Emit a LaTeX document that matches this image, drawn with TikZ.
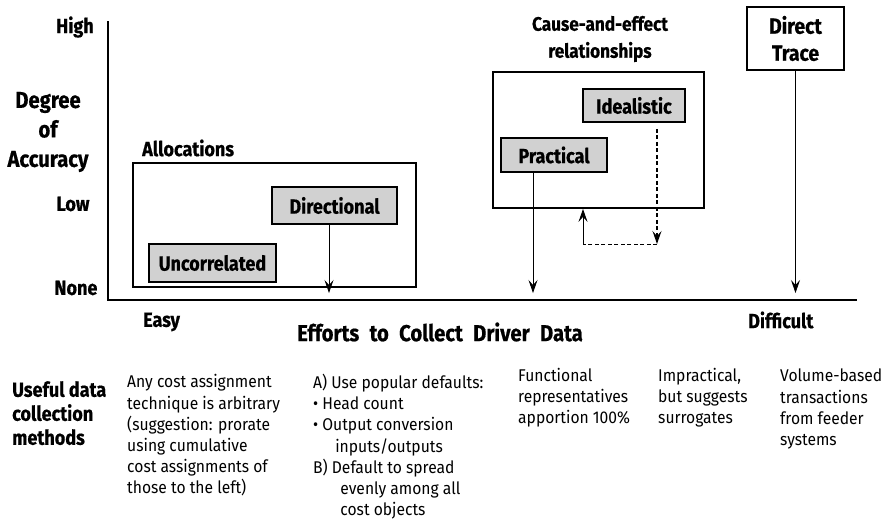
\documentclass[tikz,border=0pt]{standalone}
\usepackage{fontspec}
\setmainfont{Fira Sans}
\newfontfamily\labf[FakeStretch=0.88,FakeBold=0.6]{Fira Sans}
\newfontfamily\bodyf[FakeStretch=0.92]{Fira Sans}
\usetikzlibrary{arrows.meta}
\definecolor{boxgray}{gray}{0.82}
\begin{document}
\begin{tikzpicture}[x=1pt,y=-1pt,
  lab/.style={font=\labf\bfseries\fontsize{20.5}{24}\selectfont, inner sep=0},
  bigl/.style={font=\labf\bfseries\fontsize{23}{29.5}\selectfont, inner sep=0, align=center},
  body/.style={font=\bodyf\fontsize{17}{21.2}\selectfont, align=left, anchor=north west, inner sep=0},
  groupbox/.style={draw, line width=1.8pt, rectangle, inner sep=0},
  grayb/.style={draw, line width=1.8pt, fill=boxgray, inner sep=0, font=\labf\bfseries\fontsize{20.5}{24}\selectfont},
  arr/.style={line width=0.8pt, -{Stealth[length=13pt,width=9pt,inset=5pt]}},
  axisl/.style={line width=1.1pt}
]
\useasboundingbox (0,0) rectangle (894,520);

% axes
\coordinate (o) at (108,300);
\coordinate (ytop) at (108,21);
\coordinate (xend) at (857,300);
\draw[axisl] (ytop) -- (o) -- (xend);

% y-axis labels
\node[lab] (high) at (75,27) {High};
\node[lab] (low) at (73,204) {Low};
\node[lab] (none) at (76,288) {None};
\node[bigl] (doa) at (48,132) {Degree\\of\\Accuracy};

% Allocations group
\node[groupbox, minimum width=283pt, minimum height=124pt] (alloc) at (274.5,225) {};
\node[lab, anchor=west] (alloclab) at (142,148) {Allocations};
\node[grayb, minimum width=127pt, minimum height=38pt] (unc) at (212.5,263) {Uncorrelated};
\node[grayb, minimum width=125pt, minimum height=37pt] (dir) at (334.5,205.5) {Directional};

% Cause-and-effect group
\node[groupbox, minimum width=211pt, minimum height=136pt] (ce) at (598.5,140) {};
\node[font=\labf\bfseries\fontsize{19.5}{27}\selectfont, inner sep=0, align=center] (celab) at (600,39) {Cause-and-effect\\relationships};
\node[grayb, minimum width=102pt, minimum height=33pt] (ideal) at (634,105.5) {Idealistic};
\node[grayb, minimum width=106pt, minimum height=34pt] (prac) at (554,155) {Practical};

% Direct trace
\node[groupbox, fill=white, minimum width=97pt, minimum height=63pt, align=center,
      font=\labf\bfseries\fontsize{22}{27}\selectfont] (dt) at (795.5,38.5) {Direct\\Trace};

% arrows to the axis
\coordinate (dirend) at (329,293);
\coordinate (pracend) at (533,293);
\coordinate (dtend) at (795.5,293);
\draw[arr] (dir.south -| dirend) -- (dirend);
\draw[arr] (prac.south -| pracend) -- (pracend);
\draw[arr] (dt.south) -- (dtend);

% dashed feedback
\coordinate (cr) at (657,244);
\coordinate (cl) at (583,244);
\draw[arr, line width=1.4pt, dash pattern=on 4pt off 2.5pt, shorten <=6pt] (ideal.south -| cr) -- (cr);
\draw[line width=0.9pt, dash pattern=on 4pt off 2.5pt] (cr) -- (cl);
\draw[arr, line width=1pt] (cl) -- (ce.south -| cl);

% x-axis labels
\node[lab, anchor=west] (easy) at (143,322) {Easy};
\node[lab, anchor=west] (diff) at (748,320) {Difficult};
\node[font=\labf\bfseries\fontsize{23}{28}\selectfont, inner sep=0] (xlab) at (440,332)
  {Efforts\hspace{0.45em}to\hspace{0.45em}Collect\hspace{0.45em}Driver\hspace{0.45em}Data};

% bottom row
\node[lab, align=left, anchor=north west] (udc) at (12,381) {Useful data\\collection\\methods};
\node[body] (c1) at (127,374.5) {Any cost assignment\\technique is arbitrary\\(suggestion: prorate\\using cumulative\\cost assignments of\\those to the left)};
\node[body] (c2) at (313,374) {A) Use popular defaults:\\• Head count\\• Output conversion\\\hspace*{1.3em}inputs/outputs\\B) Default to spread\\\hspace*{1.6em}evenly among all\\\hspace*{1.6em}cost objects};
\node[body] (c3) at (518,368) {Functional\\representatives\\apportion 100\%};
\node[body] (c4) at (658,368) {Impractical,\\but suggests\\surrogates};
\node[body] (c5) at (780,369) {Volume-based\\transactions\\from feeder\\systems};
\end{tikzpicture}
\end{document}
